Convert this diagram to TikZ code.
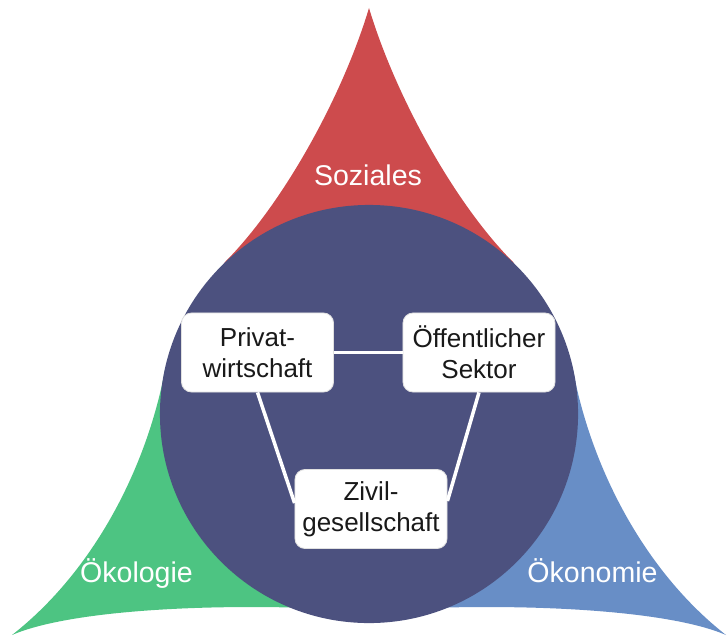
\documentclass[tikz,border=0pt]{standalone}
\usepackage{fontspec}
\setmainfont{Liberation Sans}
\usepackage{tikz}

\definecolor{rot}{RGB}{205,75,77}
\definecolor{gruen}{RGB}{77,196,130}
\definecolor{hellblau}{RGB}{104,142,198}
\definecolor{dunkelblau}{RGB}{76,81,127}

\begin{document}
\begin{tikzpicture}[x=0.025cm,y=-0.025cm,
  feld/.style={text=white,font=\fontsize{20.3}{24}\selectfont,anchor=base},
  akteur/.style={draw=black!12,line width=0.6pt,fill=white,rounded corners=0.25cm,align=center,
    minimum width=3.8cm,minimum height=1.975cm,inner sep=2pt,font=\fontsize{18.5}{22}\selectfont,text=black!90},
  band/.style={white,line width=2.5pt}]
\useasboundingbox (0,0) rectangle (728,637);
% drei Spitzen, innen unter dem Kreis geschlossen
\fill[rot] (369,8) .. controls (342,98) and (282,205) .. (225,262) -- (200,300) -- (538,300) -- (513,262) .. controls (456,205) and (396,98) .. (369,8) -- cycle;
\fill[gruen] (12,635) .. controls (95,570) and (147,466) .. (165,370) -- (250,450) -- (310,608) .. controls (190,604) and (65,612) .. (12,635) -- cycle;
\fill[hellblau] (726,635) .. controls (643,570) and (591,466) .. (573,370) -- (488,450) -- (428,608) .. controls (548,604) and (673,612) .. (726,635) -- cycle;
\fill[dunkelblau] (369,414) circle (5.225cm);
\node[feld] (soz) at (368,185) {Soziales};
\node[feld] (oekol) at (136.5,582) {Ökologie};
\node[feld] (oekon) at (592.5,582) {Ökonomie};
\node[akteur] (priv) at (257.5,352.5) {Privat-\\wirtschaft};
\node[akteur] (oeff) at (479,352.5) {Öffentlicher\\Sektor};
\node[akteur] (zivil) at (371,509) {Zivil-\\gesellschaft};
\draw[band] (priv.east) -- (oeff.west);
\draw[band] (priv.south) -- ([yshift=0.15cm]zivil.west);   % nicht ganz mittig
\draw[band] (oeff.south) -- ([yshift=0.2cm]zivil.east);
\end{tikzpicture}
\end{document}
